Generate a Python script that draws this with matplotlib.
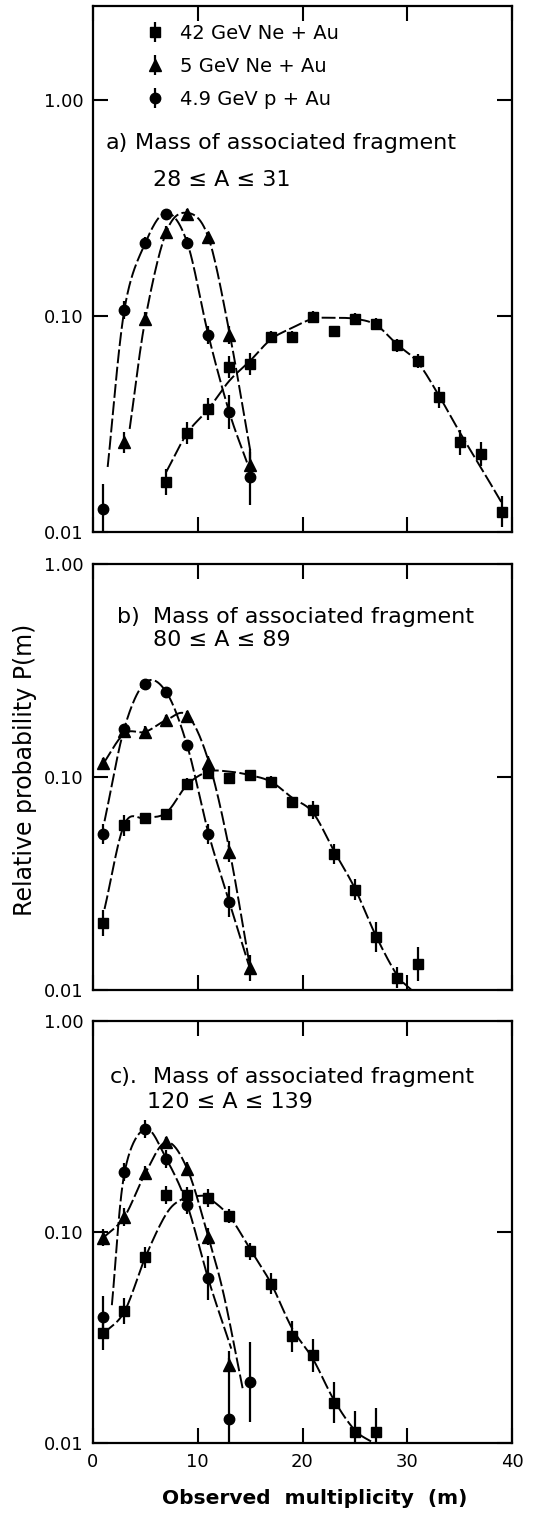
import numpy as np
import matplotlib
matplotlib.use("Agg")
import matplotlib.pyplot as plt

plt.rcParams['font.family'] = ['DejaVu Sans']
plt.rcParams['lines.scale_dashes'] = False

# ---------------- data ----------------
series_labels = ['42 GeV Ne + Au', '5 GeV Ne + Au', '4.9 GeV p + Au']
panel_titles = ['Mass of associated fragment'] * 3
panel_tags = ['a)', 'b)', 'c).']
panel_ranges = ['28 \u2264 A \u2264 31', '80 \u2264 A \u2264 89', '120 \u2264 A \u2264 139']

x_ticks = [0, 10, 20, 30, 40]
x_ticklabels = ['0', '10', '20', '30', '40']
y_ticks = [0.01, 0.1, 1.0]
y_ticklabels = ['0.01', '0.10', '1.00']

# Panel a
a_sq_m = [7, 9, 11, 13, 15, 17, 19, 21, 23, 25, 27, 29, 31, 33, 35, 37, 39]
a_sq_v = [0.017, 0.0287, 0.0371, 0.058, 0.060, 0.080, 0.080, 0.099, 0.085, 0.097,
          0.092, 0.073, 0.062, 0.042, 0.026, 0.023, 0.0124]
a_sq_e = [1.15, 1.12, 1.12, 1.12, 1.12, 1.07, 1.07, 1.06, 1.06, 1.06,
          1.06, 1.07, 1.08, 1.12, 1.14, 1.14, 1.18]
a_tri_m = [3, 5, 7, 9, 11, 13, 15]
a_tri_v = [0.026, 0.097, 0.245, 0.296, 0.232, 0.082, 0.0204]
a_tri_e = [1.12, 1.08, 1.06, 1.06, 1.06, 1.1, 1.15]
a_cir_m = [1, 3, 5, 7, 9, 11, 13, 15]
a_cir_v = [0.0128, 0.107, 0.218, 0.296, 0.218, 0.082, 0.036, 0.018]
a_cir_e = [1.3, 1.1, 1.06, 1.06, 1.06, 1.1, 1.2, 1.35]
# fitted curves (panel a)
a_sq_cm = [7, 9, 11, 13, 15, 17, 19, 21, 23, 25, 27, 29, 31, 33, 35, 37, 39]
a_sq_cv = [0.019, 0.0287, 0.037, 0.05, 0.062, 0.078, 0.088, 0.097, 0.098, 0.097,
           0.091, 0.074, 0.061, 0.043, 0.029, 0.020, 0.0137]
a_tri_cm = [3.5, 5, 7, 9, 11, 13, 15]
a_tri_cv = [0.03, 0.097, 0.245, 0.30, 0.232, 0.085, 0.024]
a_cir_cm = [1.4, 3, 5, 7, 9, 11, 13, 14.7]
a_cir_cv = [0.02, 0.107, 0.218, 0.30, 0.218, 0.082, 0.036, 0.021]

# Panel b
b_sq_m = [1, 3, 5, 7, 9, 11, 13, 15, 17, 19, 21, 23, 25, 27, 29, 31]
b_sq_v = [0.0206, 0.0595, 0.064, 0.067, 0.093, 0.104, 0.099, 0.102, 0.095, 0.076,
          0.070, 0.0435, 0.0295, 0.0177, 0.0114, 0.0132]
b_sq_e = [1.15, 1.12, 1.06, 1.06, 1.06, 1.06, 1.06, 1.06, 1.06, 1.06,
          1.1, 1.12, 1.12, 1.18, 1.12, 1.2]
b_tri_m = [1, 3, 5, 7, 9, 11, 13, 15]
b_tri_v = [0.116, 0.165, 0.163, 0.185, 0.193, 0.116, 0.0445, 0.0127]
b_tri_e = [1.06, 1.06, 1.06, 1.06, 1.06, 1.08, 1.12, 1.15]
b_cir_m = [1, 3, 5, 7, 9, 11, 13]
b_cir_v = [0.054, 0.168, 0.273, 0.25, 0.141, 0.054, 0.026]
b_cir_e = [1.12, 1.06, 1.06, 1.06, 1.06, 1.12, 1.18]
b_sq_cm = [1.1, 3, 5, 7, 9, 11, 13, 15, 17, 19, 21, 23, 25, 27, 29, 30.4]
b_sq_cv = [0.024, 0.06, 0.064, 0.068, 0.092, 0.106, 0.106, 0.102, 0.095, 0.08,
           0.068, 0.045, 0.03, 0.018, 0.0118, 0.01]
b_tri_cm = [1, 3, 5, 7, 9, 11, 13, 15]
b_tri_cv = [0.116, 0.16, 0.163, 0.185, 0.195, 0.12, 0.046, 0.0127]
b_cir_cm = [1.1, 3, 5, 7, 9, 11, 13, 15]
b_cir_cv = [0.062, 0.17, 0.278, 0.25, 0.14, 0.055, 0.026, 0.0125]

# Panel c
c_sq_m = [1, 3, 5, 7, 9, 11, 13, 15, 17, 19, 21, 23, 25, 27]
c_sq_v = [0.0332, 0.0422, 0.076, 0.15, 0.149, 0.145, 0.119, 0.081, 0.057, 0.032,
          0.026, 0.0155, 0.0113, 0.0113]
c_sq_e = [1.2, 1.15, 1.12, 1.1, 1.1, 1.1, 1.08, 1.1, 1.12, 1.18, 1.2, 1.25, 1.25, 1.3]
c_tri_m = [1, 3, 5, 7, 9, 11, 13]
c_tri_v = [0.094, 0.118, 0.19, 0.267, 0.199, 0.095, 0.0234]
c_tri_e = [1.1, 1.1, 1.08, 1.06, 1.08, 1.1, 1.08]
c_cir_m = [1, 3, 5, 7, 9, 11, 13, 15]
c_cir_v = [0.0396, 0.192, 0.308, 0.222, 0.134, 0.0605, 0.013, 0.0195]
c_cir_e = [1.25, 1.1, 1.1, 1.1, 1.1, 1.27, 2.1, 1.55]
c_sq_cm = [1, 3, 5, 7, 8.5, 10, 11, 13, 15, 17, 19, 21, 23, 25, 26.8]
c_sq_cv = [0.033, 0.042, 0.076, 0.122, 0.143, 0.148, 0.145, 0.119, 0.083, 0.057,
           0.035, 0.025, 0.016, 0.0115, 0.01]
c_tri_cm = [1, 3, 5, 7, 9, 11, 12.5, 14.3]
c_tri_cv = [0.094, 0.118, 0.19, 0.267, 0.199, 0.095, 0.05, 0.018]
c_cir_cm = [1.8, 3, 5, 7, 9, 11, 13.2]
c_cir_cv = [0.045, 0.19, 0.308, 0.222, 0.134, 0.06, 0.028]

panels = [
    dict(sq=(a_sq_m, a_sq_v, a_sq_e), tri=(a_tri_m, a_tri_v, a_tri_e), cir=(a_cir_m, a_cir_v, a_cir_e),
         curves=[(a_sq_cm, a_sq_cv), (a_tri_cm, a_tri_cv), (a_cir_cm, a_cir_cv)]),
    dict(sq=(b_sq_m, b_sq_v, b_sq_e), tri=(b_tri_m, b_tri_v, b_tri_e), cir=(b_cir_m, b_cir_v, b_cir_e),
         curves=[(b_sq_cm, b_sq_cv), (b_tri_cm, b_tri_cv), (b_cir_cm, b_cir_cv)]),
    dict(sq=(c_sq_m, c_sq_v, c_sq_e), tri=(c_tri_m, c_tri_v, c_tri_e), cir=(c_cir_m, c_cir_v, c_cir_e),
         curves=[(c_sq_cm, c_sq_cv), (c_tri_cm, c_tri_cv), (c_cir_cm, c_cir_cv)]),
]


def smooth_curve(xs, ys, n=24):
    """Catmull-Rom spline through nodes in (x, log y) space."""
    pts = np.column_stack([np.asarray(xs, float), np.log10(np.asarray(ys, float))])
    P = np.vstack([2 * pts[0] - pts[1], pts, 2 * pts[-1] - pts[-2]])
    out = []
    t = np.linspace(0, 1, n, endpoint=False)[:, None]
    for i in range(1, len(P) - 2):
        p0, p1, p2, p3 = P[i - 1], P[i], P[i + 1], P[i + 2]
        seg = 0.5 * (2 * p1 + (-p0 + p2) * t + (2 * p0 - 5 * p1 + 4 * p2 - p3) * t ** 2
                     + (-p0 + 3 * p1 - 3 * p2 + p3) * t ** 3)
        out.append(seg)
    out.append(pts[-1:])
    arr = np.vstack(out)
    return arr[:, 0], 10 ** arr[:, 1]


W, H = 536, 1521
fig = plt.figure(figsize=(W / 100, H / 100), dpi=100)

left_px, right_px = 93, 512
axes_px = [(6, 532, 2.72), (564, 990, 1.0), (1021, 1443, 1.0)]

text_pos = [  # (tag x, title x, line1 y, range x, line2 y) in axes fraction
    (0.031, 0.100, 0.740, 0.143, 0.669),
    (0.057, 0.143, 0.876, 0.143, 0.822),
    (0.041, 0.143, 0.867, 0.129, 0.808),
]

markers = [('s', 7.0), ('^', 8.0), ('o', 7.5)]
keys = ['sq', 'tri', 'cir']

for pi, (top, bot, ytop) in enumerate(axes_px):
    ax = fig.add_axes([left_px / W, 1 - bot / H, (right_px - left_px) / W, (bot - top) / H])
    ax.set_yscale('log')
    ax.set_xlim(0, 40)
    ax.set_ylim(0.01, ytop)
    p = panels[pi]
    for cx, cy in p['curves']:
        sx, sy = smooth_curve(cx, cy)
        ax.plot(sx, sy, color='k', lw=1.4, linestyle=(0, (10, 2.5)), zorder=2)
    handles = []
    for k, (mk, ms) in zip(keys, markers):
        m, v, f = p[k]
        v = np.asarray(v)
        f = np.asarray(f)
        h = ax.errorbar(m, v, yerr=[v - v / f, v * f - v], fmt=mk, color='k', ms=ms,
                        elinewidth=1.6, capsize=0, zorder=3, clip_on=True)
        handles.append(h)
    # axes styling
    ax.set_xticks(x_ticks)
    ax.set_yticks(y_ticks)
    ax.yaxis.set_minor_locator(matplotlib.ticker.NullLocator())
    ax.set_yticklabels(y_ticklabels, fontsize=13)
    if pi == 2:
        ax.set_xticklabels(x_ticklabels, fontsize=13)
    else:
        ax.set_xticklabels([])
    ax.tick_params(direction='in', length=11, width=1.5, top=True, right=True, pad=7)
    for s in ax.spines.values():
        s.set_linewidth(1.6)
    # annotations
    tx, ttx, ty1, rx, ty2 = text_pos[pi]
    ax.text(tx, ty1, panel_tags[pi], transform=ax.transAxes, fontsize=16, va='center', ha='left')
    ax.text(ttx, ty1, panel_titles[pi], transform=ax.transAxes, fontsize=16, va='center', ha='left')
    ax.text(rx, ty2, panel_ranges[pi], transform=ax.transAxes, fontsize=16, va='center', ha='left')
    if pi == 0:
        ax.legend(handles, series_labels, loc='upper left', bbox_to_anchor=(0.125, 1 - 18 / 526),
                  frameon=False, fontsize=14, handlelength=1.0, handletextpad=0.8,
                  labelspacing=0.72, borderpad=0, borderaxespad=0)

fig.text(25 / W, 1 - 770 / H, 'Relative probability P(m)', rotation=90, fontsize=17,
         ha='center', va='center')
fig.text(315 / W, 1 - 1498 / H, 'Observed  multiplicity  (m)', fontsize=14.5,
         fontweight='bold', ha='center', va='center')

fig.savefig('out.png', dpi=100)
